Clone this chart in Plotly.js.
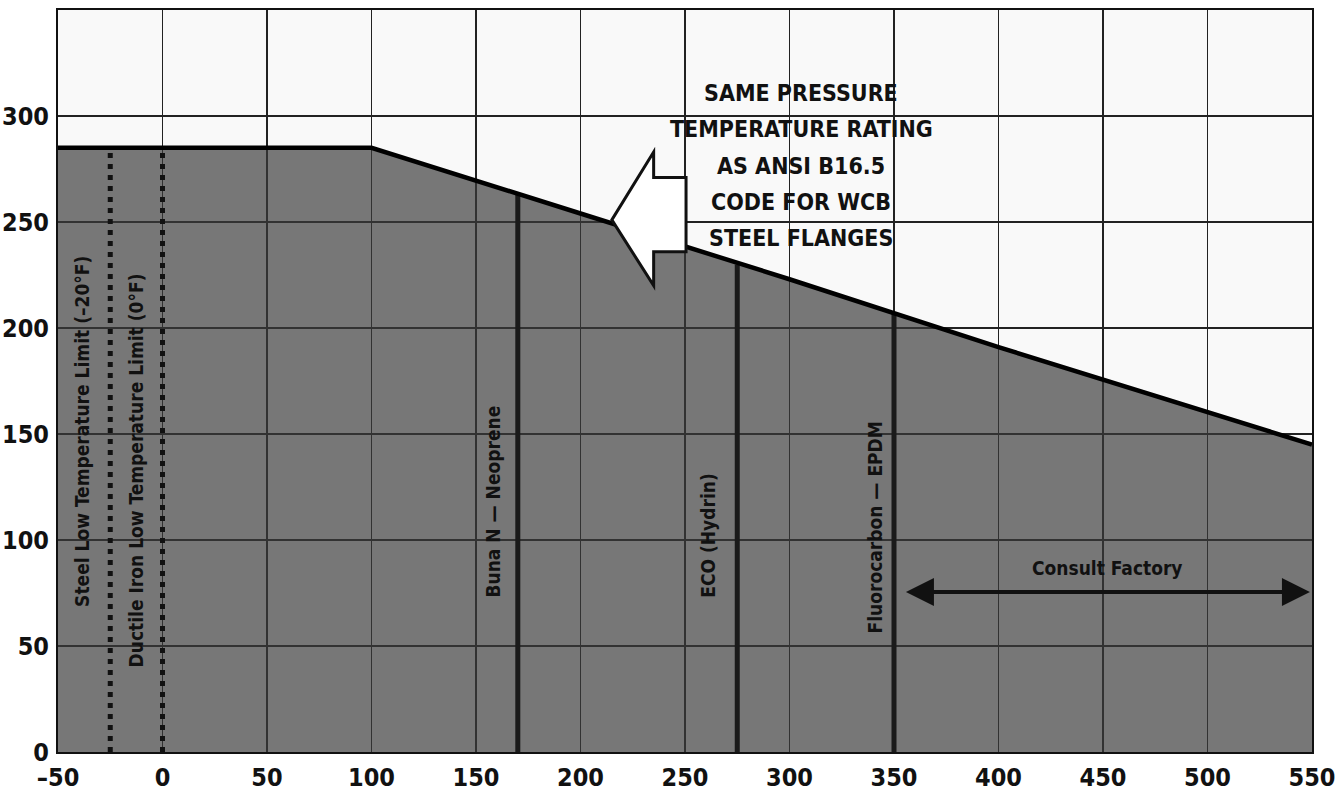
<!DOCTYPE html>
<html>
<head>
<meta charset="utf-8">
<script src="https://cdn.plot.ly/plotly-3.0.1.min.js"></script>
<style>html,body{margin:0;padding:0;background:#fff;}#chart{width:1335px;height:793px;}</style>
</head>
<body>
<div id="chart"></div>
<script>
// Rating curve (temperature °F, pressure psi)
const tempF = [-50, 100, 200, 300, 400, 500, 550];
const pressurePsi = [285, 285, 254, 223, 191, 160, 145];

// Limit lines: temperature and top of line (on rating curve)
const limitLabels = ["Steel Low Temperature Limit (–20°F)", "Ductile Iron Low Temperature Limit (0°F)",
  "Buna N — Neoprene", "ECO (Hydrin)", "Fluorocarbon — EPDM"];
const limitTemps = [-25, 0, 170, 275, 350];
const limitTops = [285, 285, 263, 230, 207];
const limitDotted = [true, true, false, false, false];
// label positions
const labelTemps = [-38.5, -12.5, 158, 261, 341];
const labelPsi = [151, 133, 118, 102, 106];

const xTicks = [-50, 0, 50, 100, 150, 200, 250, 300, 350, 400, 450, 500, 550];
const yTicks = [0, 50, 100, 150, 200, 250, 300];

const consultRange = [354, 550];
const consultPsi = 75.5;
const noteLines = ["SAME PRESSURE", "TEMPERATURE RATING", "AS ANSI B16.5", "CODE FOR WCB", "STEEL FLANGES"];
const noteX = 305.5;
const noteTopPsi = 310.8, noteStepPsi = 17.1;
// big arrow geometry (data units)
const arrowTip = [215, 251];
const arrowHeadX = 235, arrowHeadTop = 283, arrowHeadBot = 220;
const arrowShaftRight = 250.5, arrowShaftTop = 271, arrowShaftBot = 236;

const FONT = "DejaVu Sans Condensed, Liberation Sans Narrow, sans-serif";

const traces = [];
traces.push({x: tempF, y: pressurePsi, type: 'scatter', mode: 'lines', fill: 'tozeroy',
  fillcolor: 'rgba(58,58,58,0.68)', line: {width: 0, color: 'rgba(0,0,0,0)'}, hoverinfo: 'skip', showlegend: false});
limitTemps.forEach((t, i) => {
  traces.push({x: [t, t], y: [0, limitTops[i]], type: 'scatter', mode: 'lines', showlegend: false,
    line: limitDotted[i] ? {color: '#111', width: 5, dash: '5px,6px'} : {color: '#1a1a1a', width: 5}});
});
traces.push({x: tempF, y: pressurePsi, type: 'scatter', mode: 'lines', showlegend: false,
  line: {color: '#000', width: 4.5}});

const annotations = limitLabels.map((s, i) => ({
  x: labelTemps[i], y: labelPsi[i], xref: 'x', yref: 'y', text: s, showarrow: false,
  textangle: -90, font: {family: FONT, size: 19, color: '#111', weight: 'bold'}
}));
annotations.push({x: (consultRange[0] + consultRange[1]) / 2, y: 87, xref: 'x', yref: 'y', showarrow: false,
  text: 'Consult Factory', font: {family: FONT, size: 19, color: '#111', weight: 'bold'}});
annotations.push({x: consultRange[1] - 1, y: consultPsi, ax: consultRange[0] + 1, ay: consultPsi,
  xref: 'x', yref: 'y', axref: 'x', ayref: 'y', text: '', showarrow: true, arrowhead: 2, startarrowhead: 2,
  arrowside: 'end+start', arrowwidth: 4, arrowsize: 1.4, startarrowsize: 1.4, arrowcolor: '#111'});
noteLines.forEach((s, i) => {
  annotations.push({x: noteX, y: noteTopPsi - i * noteStepPsi, xref: 'x', yref: 'y', showarrow: false, text: s,
    align: 'center', font: {family: FONT, size: 23, color: '#111', weight: 'bold'}});
});

const arrowPath = `M ${arrowTip[0]} ${arrowTip[1]} L ${arrowHeadX} ${arrowHeadTop} L ${arrowHeadX} ${arrowShaftTop} ` +
  `L ${arrowShaftRight} ${arrowShaftTop} L ${arrowShaftRight} ${arrowShaftBot} L ${arrowHeadX} ${arrowShaftBot} ` +
  `L ${arrowHeadX} ${arrowHeadBot} Z`;

const tickFont = {family: FONT, size: 25, color: '#111', weight: 'bold'};
const layout = {
  width: 1335, height: 793,
  margin: {l: 58, r: 23, t: 10, b: 41},
  paper_bgcolor: '#fff', plot_bgcolor: '#f9f9f9',
  showlegend: false,
  xaxis: {range: [-50, 550], tickvals: xTicks, ticktext: xTicks.map(v => v < 0 ? '–' + Math.abs(v) : String(v)),
    showgrid: true, gridcolor: '#222', gridwidth: 1.5, zeroline: false,
    showline: true, linecolor: '#111', linewidth: 2, mirror: true, ticks: '', ticklabelstandoff: 2,
    ticklabeloverflow: 'allow', tickfont: tickFont},
  yaxis: {range: [0, 350], tickvals: yTicks, showgrid: true, gridcolor: '#222', gridwidth: 1.5, zeroline: false,
    showline: true, linecolor: '#111', linewidth: 2, mirror: true, ticks: '', ticklabelstandoff: 2,
    ticklabeloverflow: 'allow', tickfont: tickFont},
  annotations: annotations,
  shapes: [{type: 'path', path: arrowPath, xref: 'x', yref: 'y', fillcolor: '#fff',
    line: {color: '#111', width: 3}, layer: 'above'}]
};

Plotly.newPlot('chart', traces, layout, {displayModeBar: false, staticPlot: true});
</script>
</body>
</html>
